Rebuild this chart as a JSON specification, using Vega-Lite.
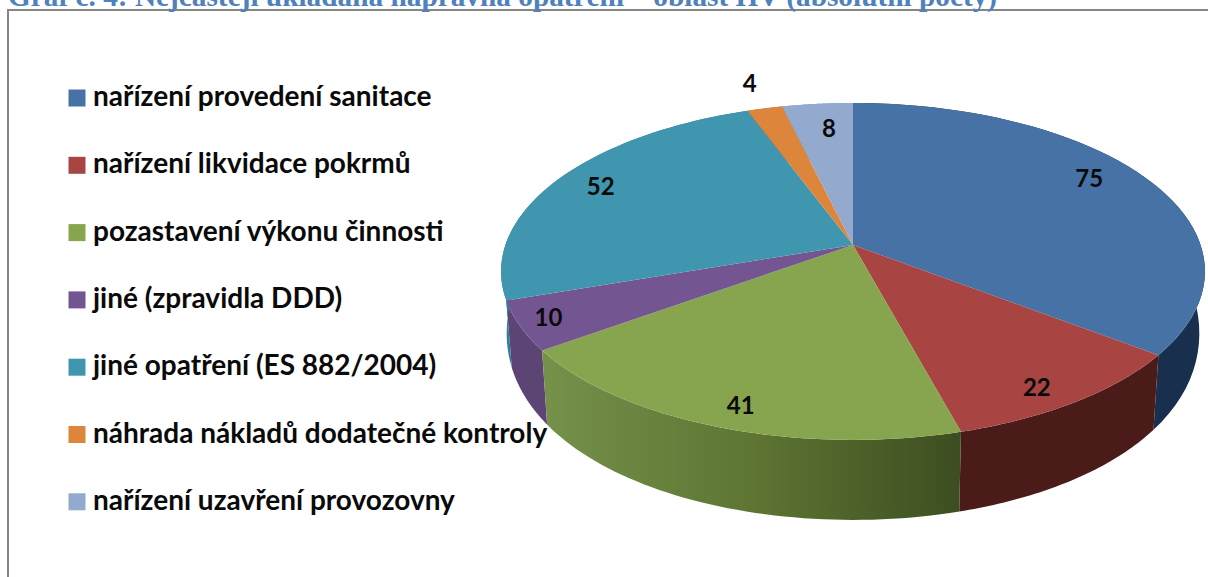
{
"$schema":"https://vega.github.io/schema/vega-lite/v6.json",
"width":1215,"height":585,
"autosize":{"type":"none"},
"padding":{"left":8,"top":10,"right":0,"bottom":0},
"background":"#ffffff",
"config":{"view":{"stroke":"#868686","strokeWidth":2}},
"title":{"text":"Graf č. 4: Nejčastěji ukládaná nápravná opatření – oblast HV (absolutní počty)","anchor":"start","frame":"group","offset":-2,"font":"Liberation Serif","fontWeight":"bold","fontSize":29.3,"color":"#4F81BD"},
"data":{"values":[
{"opatreni":"nařízení provedení sanitace","pocet":75,"poradi":1},
{"opatreni":"nařízení likvidace pokrmů","pocet":22,"poradi":2},
{"opatreni":"pozastavení výkonu činnosti","pocet":41,"poradi":3},
{"opatreni":"jiné (zpravidla DDD)","pocet":10,"poradi":4},
{"opatreni":"jiné opatření (ES 882/2004)","pocet":52,"poradi":5},
{"opatreni":"náhrada nákladů dodatečné kontroly","pocet":4,"poradi":6},
{"opatreni":"nařízení uzavření provozovny","pocet":8,"poradi":7}
]},
"transform":[
{"joinaggregate":[{"op":"sum","field":"pocet","as":"celkem"}]},
{"window":[{"op":"sum","field":"pocet","as":"kum"}],"sort":[{"field":"poradi","order":"ascending"}]},
{"calculate":"2*PI*(datum.kum-datum.pocet)/datum.celkem","as":"t0"},
{"calculate":"2*PI*datum.kum/datum.celkem","as":"t1"}
],
"layer":[
{
"transform":[
{"filter":"datum.poradi!=3"},
{"calculate":"sequence(0,2.021,0.02)","as":"s"},
{"flatten":["s"]},
{"calculate":"datum.t0+(datum.t1-datum.t0)*(datum.s<1.01?datum.s:2.02-datum.s)","as":"t"},
{"calculate":"1+0.157*cos(datum.t)","as":"w"},
{"calculate":"min(cos(datum.t),0)","as":"m"},
{"calculate":"(datum.s<1.01?1:0.984)*347.6*sin(datum.t)/datum.w","as":"px"},
{"calculate":"164.3*cos(datum.t)/datum.w-(datum.s<1.01?0:56-41*datum.m-17*datum.m*datum.m)","as":"py"}
],
"mark":{"type":"line","filled":true,"strokeWidth":0,"interpolate":"linear"},
"encoding":{
"x":{"field":"px","type":"quantitative","axis":null,"scale":{"domain":[-845,370],"nice":false,"zero":false}},
"y":{"field":"py","type":"quantitative","axis":null,"scale":{"domain":[-350,235],"nice":false,"zero":false}},
"order":{"field":"s","type":"quantitative"},
"detail":{"field":"poradi"},
"fill":{"field":"opatreni","type":"nominal","legend":null,
"scale":{"domain":["nařízení provedení sanitace","nařízení likvidace pokrmů","jiné (zpravidla DDD)","jiné opatření (ES 882/2004)","náhrada nákladů dodatečné kontroly","nařízení uzavření provozovny"],
"range":["#182F4D","#4A1B19","#5C4575","#2F7E95","#B06A2C","#7D8DB0"]}}
}
},
{
"transform":[
{"filter":"datum.poradi==3"},
{"calculate":"sequence(0,2.021,0.02)","as":"s"},
{"flatten":["s"]},
{"calculate":"datum.t0+(datum.t1-datum.t0)*(datum.s<1.01?datum.s:2.02-datum.s)","as":"t"},
{"calculate":"1+0.157*cos(datum.t)","as":"w"},
{"calculate":"min(cos(datum.t),0)","as":"m"},
{"calculate":"(datum.s<1.01?1:0.984)*347.6*sin(datum.t)/datum.w","as":"px"},
{"calculate":"164.3*cos(datum.t)/datum.w-(datum.s<1.01?0:56-41*datum.m-17*datum.m*datum.m)","as":"py"}
],
"mark":{"type":"line","filled":true,"strokeWidth":0,"fill":{"gradient":"linear","x1":0,"y1":0,"x2":1,"y2":0,"stops":[{"offset":0,"color":"#75914A"},{"offset":0.5,"color":"#5E7533"},{"offset":1,"color":"#3C4E20"}]}},
"encoding":{
"x":{"field":"px","type":"quantitative","axis":null,"scale":{"domain":[-845,370],"nice":false,"zero":false}},
"y":{"field":"py","type":"quantitative","axis":null,"scale":{"domain":[-350,235],"nice":false,"zero":false}},
"order":{"field":"s","type":"quantitative"}
}
},
{
"transform":[
{"calculate":"sequence(-1,1.001,0.02)","as":"s"},
{"flatten":["s"]},
{"calculate":"datum.t0+(datum.t1-datum.t0)*max(datum.s,0)","as":"t"},
{"calculate":"datum.s<0?0:1","as":"r"},
{"calculate":"1+0.157*datum.r*cos(datum.t)","as":"w"},
{"calculate":"347.6*datum.r*sin(datum.t)/datum.w","as":"px"},
{"calculate":"164.3*datum.r*cos(datum.t)/datum.w","as":"py"}
],
"mark":{"type":"line","filled":true,"strokeWidth":0},
"encoding":{
"x":{"field":"px","type":"quantitative","axis":null,"scale":{"domain":[-845,370],"nice":false,"zero":false}},
"y":{"field":"py","type":"quantitative","axis":null,"scale":{"domain":[-350,235],"nice":false,"zero":false}},
"order":{"field":"s","type":"quantitative"},
"detail":{"field":"poradi"},
"fill":{"field":"opatreni","type":"nominal",
"scale":{"domain":["nařízení provedení sanitace","nařízení likvidace pokrmů","pozastavení výkonu činnosti","jiné (zpravidla DDD)","jiné opatření (ES 882/2004)","náhrada nákladů dodatečné kontroly","nařízení uzavření provozovny"],
"range":["#4672A6","#A84442","#87A44E","#735591","#4096AE","#DD853A","#94A9CE"]},
"legend":{"title":null,"orient":"none","legendX":55,"legendY":74,"symbolType":"square","symbolSize":289,"symbolStrokeWidth":0,"labelFont":"Lato","labelFontWeight":"bold","labelFontSize":28,"labelColor":"#0A0A0A","labelLimit":520,"rowPadding":39.3,"labelOffset":2}}
}
},
{
"transform":[
{"calculate":"(datum.t0+datum.t1)/2+(datum.pocet==75?-0.07:datum.pocet==22?0.05:datum.pocet==41?-0.025:datum.pocet==8?0.02:0)","as":"t"},
{"calculate":"datum.pocet==4?1.2:datum.pocet==10?0.92:datum.pocet==52?0.85:datum.pocet==22||datum.pocet==41?0.9:datum.pocet==75?0.84:0.79","as":"r"},
{"calculate":"1+0.157*datum.r*cos(datum.t)","as":"w"},
{"calculate":"347.6*datum.r*sin(datum.t)/datum.w","as":"px"},
{"calculate":"164.3*datum.r*cos(datum.t)/datum.w","as":"py"}
],
"mark":{"type":"text","font":"Lato","fontWeight":"bold","fontSize":24,"color":"#0A0A0A","baseline":"middle"},
"encoding":{
"x":{"field":"px","type":"quantitative","axis":null,"scale":{"domain":[-845,370],"nice":false,"zero":false}},
"y":{"field":"py","type":"quantitative","axis":null,"scale":{"domain":[-350,235],"nice":false,"zero":false}},
"text":{"field":"pocet","type":"quantitative"}
}
}
],
"resolve":{"scale":{"fill":"independent"}}
}
